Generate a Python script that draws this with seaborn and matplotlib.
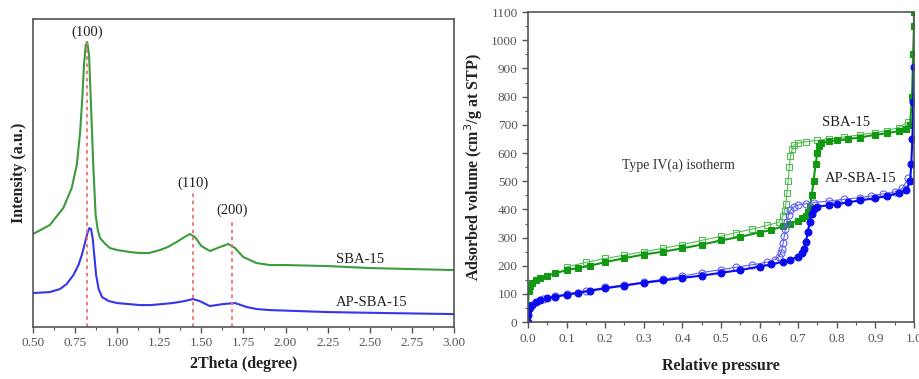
import numpy as np
import pandas as pd
import matplotlib
matplotlib.use("Agg")
import matplotlib.pyplot as plt
import seaborn as sns
from matplotlib.ticker import MultipleLocator

sns.set_theme(style="ticks")
plt.rcParams['font.family'] = ['Liberation Serif', 'DejaVu Serif']

# ---------------- XRD data ----------------
xrd_x_sba = [0.50, 0.60, 0.68, 0.73, 0.76, 0.78, 0.793, 0.803, 0.813, 0.822, 0.833, 0.843,
             0.858, 0.872, 0.885, 0.898, 0.93, 0.957, 1.00, 1.076, 1.135, 1.19, 1.254, 1.30,
             1.353, 1.40, 1.432, 1.462, 1.50, 1.551, 1.61, 1.66, 1.70, 1.749, 1.828, 1.907,
             2.00, 2.25, 2.50, 2.75, 3.00]
xrd_y_sba = [93, 102, 119, 139, 162, 195, 229, 262, 282, 285, 272, 229,
             162, 112, 97, 89, 83, 79, 77, 75, 74, 74, 77, 80,
             85, 90, 93, 90, 81, 76, 80, 83, 79, 70, 64, 62,
             62, 61, 59, 58, 57]
xrd_x_ap = [0.50, 0.60, 0.66, 0.70, 0.74, 0.77, 0.79, 0.81, 0.825, 0.835, 0.845, 0.855,
            0.865, 0.875, 0.89, 0.91, 0.95, 1.00, 1.135, 1.20, 1.33, 1.40, 1.45, 1.49,
            1.55, 1.63, 1.70, 1.77, 1.83, 1.907, 2.25, 2.60, 3.00]
xrd_y_ap = [34, 35, 38, 43, 52, 62, 72, 85, 95, 99, 98, 88,
            70, 52, 38, 30, 26, 24, 22, 22, 24, 26, 28, 26,
            21, 23, 24, 20, 18, 17, 15, 14, 13]
peak_pos = [0.82, 1.45, 1.68]
peak_top = [285, 135, 107]
peak_labels = ["(100)", "(110)", "(200)"]
peak_label_y = [295, 144, 117]

# ---------------- Isotherm data ----------------
p_sba_ads = [0.0, 0.002, 0.005, 0.01, 0.02, 0.03, 0.05, 0.07, 0.1, 0.13, 0.16, 0.2, 0.25, 0.3,
             0.35, 0.4, 0.45, 0.5, 0.55, 0.6, 0.63, 0.66, 0.68, 0.70, 0.71, 0.72, 0.725, 0.73,
             0.735, 0.74, 0.745, 0.75, 0.755, 0.76, 0.78, 0.8, 0.83, 0.86, 0.9, 0.93, 0.96,
             0.98, 0.99, 0.995, 0.998, 1.0, 1.0]
v_sba_ads = [60, 110, 130, 140, 150, 157, 165, 173, 185, 192, 200, 213, 227, 240,
             250, 262, 275, 290, 303, 318, 327, 340, 350, 360, 368, 378, 390, 410,
             450, 500, 560, 600, 625, 635, 642, 645, 650, 655, 665, 670, 678,
             685, 700, 800, 950, 1050, 1100]
p_sba_des = [0.985, 0.96, 0.93, 0.9, 0.86, 0.82, 0.78, 0.75, 0.72, 0.70, 0.69, 0.685, 0.68,
             0.677, 0.674, 0.671, 0.668, 0.665, 0.66, 0.65, 0.62, 0.58, 0.54, 0.5, 0.45,
             0.4, 0.35, 0.3, 0.25, 0.2, 0.15, 0.1]
v_sba_des = [710, 690, 680, 672, 665, 657, 650, 645, 640, 635, 628, 615, 590,
             550, 500, 460, 420, 395, 375, 355, 343, 330, 318, 305, 290,
             275, 262, 250, 238, 226, 212, 196]
p_ap_ads = [0.0, 0.001, 0.003, 0.006, 0.01, 0.02, 0.03, 0.05, 0.07, 0.1, 0.13, 0.16, 0.2,
            0.25, 0.3, 0.35, 0.4, 0.45, 0.5, 0.55, 0.6, 0.63, 0.66, 0.68, 0.70, 0.71, 0.715,
            0.72, 0.725, 0.73, 0.735, 0.74, 0.75, 0.78, 0.8, 0.83, 0.86, 0.9, 0.93, 0.96,
            0.98, 0.99, 0.993, 0.996, 0.998, 1.0]
v_ap_ads = [0, 25, 45, 55, 60, 70, 77, 85, 90, 97, 104, 111, 120,
            130, 140, 148, 157, 165, 175, 185, 197, 205, 214, 222, 232, 245, 260,
            285, 320, 355, 385, 400, 410, 415, 418, 425, 432, 440, 448, 458,
            470, 500, 560, 650, 780, 905]
p_ap_des = [0.985, 0.97, 0.95, 0.92, 0.89, 0.86, 0.82, 0.78, 0.74, 0.72, 0.70, 0.69, 0.68,
            0.675, 0.67, 0.667, 0.664, 0.661, 0.658, 0.655, 0.65, 0.64, 0.62, 0.58, 0.54,
            0.5, 0.45, 0.4, 0.35, 0.3, 0.25, 0.2, 0.15, 0.1, 0.07, 0.04]
v_ap_des = [510, 475, 462, 455, 448, 442, 436, 430, 424, 420, 416, 410, 398,
            380, 355, 330, 305, 280, 260, 245, 232, 222, 213, 203, 195,
            186, 176, 163, 152, 142, 132, 123, 112, 100, 92, 82]

fig = plt.figure(figsize=(9.19, 3.79), dpi=100)
ax1 = fig.add_axes([0.0359, 0.137, 0.458, 0.813])
ax2 = fig.add_axes([0.5745, 0.150, 0.420, 0.818])

green1 = "#3c9b3c"
blue1 = "#3535ee"
spine_c = "#555555"
tick_c = "#555555"

sns.lineplot(x=xrd_x_sba, y=xrd_y_sba, ax=ax1, color=green1, linewidth=1.5)
sns.lineplot(x=xrd_x_ap, y=xrd_y_ap, ax=ax1, color=blue1, linewidth=1.5)
for xp, yt, lab, ly in zip(peak_pos, peak_top, peak_labels, peak_label_y):
    ax1.plot([xp, xp], [0, yt], color="#f07070", linestyle=(0, (2, 2)), linewidth=1.3)
    ax1.text(xp, ly, lab, ha="center", va="center", fontsize=10.5, color="#222222")
ax1.text(2.44, 68, "SBA-15", ha="center", va="center", fontsize=10.5, color="#222222")
ax1.text(2.51, 25, "AP-SBA-15", ha="center", va="center", fontsize=10.5, color="#222222")
ax1.set_xlim(0.5, 3.0)
ax1.set_ylim(0, 308)
ax1.set_yticks([])
ax1.xaxis.set_minor_locator(MultipleLocator(0.125))
ax1.set_xticks(np.arange(0.5, 3.01, 0.25))
ax1.set_xticklabels(["%.2f" % v for v in np.arange(0.5, 3.01, 0.25)])
ax1.set_xlabel("2Theta (degree)", fontsize=11.5, fontweight="bold", labelpad=5)
ax1.set_ylabel("Intensity (a.u.)", fontsize=11.5, fontweight="bold", labelpad=4)

# isotherm
g2 = "#119911"
b2 = "#0a0aee"
ms = 5
sns.lineplot(x=p_sba_des, y=v_sba_des, ax=ax2, color="#55bb55", marker="s", markersize=ms,
             markerfacecolor="none", markeredgecolor="#55bb55", markeredgewidth=0.8,
             linewidth=0.8, sort=False, estimator=None)
sns.lineplot(x=p_sba_ads, y=v_sba_ads, ax=ax2, color=g2, marker="s", markersize=ms,
             markeredgecolor=g2, linewidth=1.5, sort=False, estimator=None)
sns.lineplot(x=p_ap_des, y=v_ap_des, ax=ax2, color="#6060ee", marker="o", markersize=ms,
             markerfacecolor="none", markeredgecolor="#6060ee", markeredgewidth=0.8,
             linewidth=0.8, sort=False, estimator=None)
sns.lineplot(x=p_ap_ads, y=v_ap_ads, ax=ax2, color=b2, marker="o", markersize=ms,
             markeredgecolor=b2, linewidth=1.5, sort=False, estimator=None)
ax2.text(0.824, 708, "SBA-15", ha="center", va="center", fontsize=10.5, color="#222222")
ax2.text(0.863, 508, "AP-SBA-15", ha="center", va="center", fontsize=10.5, color="#222222")
ax2.text(0.39, 558, "Type IV(a) isotherm", ha="center", va="center", fontsize=10, color="#333333")
ax2.set_xlim(0, 1.0)
ax2.set_ylim(0, 1100)
ax2.set_xticks(np.arange(0, 1.01, 0.1))
ax2.set_xticklabels(["%.1f" % v for v in np.arange(0, 1.01, 0.1)])
ax2.xaxis.set_minor_locator(MultipleLocator(0.05))
ax2.set_yticks(np.arange(0, 1101, 100))
ax2.yaxis.set_minor_locator(MultipleLocator(50))
ax2.set_xlabel("Relative pressure", fontsize=11.5, fontweight="bold", labelpad=10)
ax2.set_ylabel("Adsorbed volume (cm$^3$/g at STP)", fontsize=11.5, fontweight="bold", labelpad=4)

for ax in (ax1, ax2):
    for s in ax.spines.values():
        s.set_color(spine_c)
        s.set_linewidth(1.2)
    ax.tick_params(which="major", direction="out", length=4, width=1, colors=tick_c,
                   labelsize=9.5, labelcolor="#555555", top=False, right=False)
    ax.tick_params(which="minor", direction="out", length=2, width=0.8, colors=tick_c,
                   top=False, right=False)
    ax.xaxis.label.set_color("#222222")
    ax.yaxis.label.set_color("#222222")

fig.savefig("out.png", dpi=100)
